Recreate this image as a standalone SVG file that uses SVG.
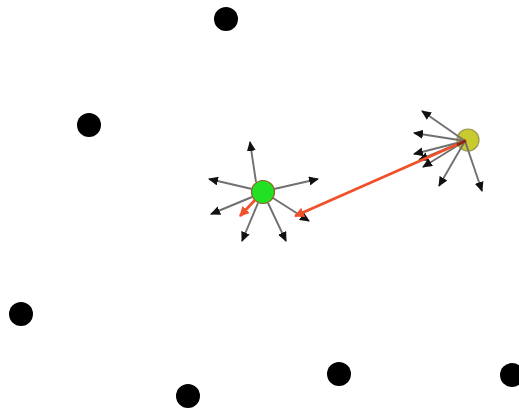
<svg xmlns="http://www.w3.org/2000/svg" width="519" height="415" viewBox="0 0 519 415">
<style>
.dot{fill:#000}
.g{stroke:#707070;stroke-width:1.9;fill:none;marker-end:url(#ah)}
.r{stroke:#f0502a;stroke-width:2.8;fill:none;marker-end:url(#rh)}
</style>
<defs>
<marker id="ah" markerUnits="userSpaceOnUse" markerWidth="11" markerHeight="9" refX="9" refY="4.5" orient="auto"><path d="M0,0 L10,4.5 L0,9 z" fill="#111"/></marker>
<marker id="rh" markerUnits="userSpaceOnUse" markerWidth="12" markerHeight="10" refX="9" refY="5" orient="auto"><path d="M0,0 L10,5 L0,10 z" fill="#f0502a"/></marker>
</defs>
<rect width="519" height="415" fill="#fff"/>
<g id="green"><circle cx="263" cy="192" r="11.5" fill="#22e022" stroke="#9a5a2a" stroke-width="1.2"/></g>
<g id="yellow"><circle cx="468" cy="140" r="11" fill="#c9c930" stroke="#9a9a50" stroke-width="1.2"/></g>
<g id="connectors">
<line class="g" x1="256" y1="182" x2="250" y2="142"/>
<line class="g" x1="252" y1="189" x2="209" y2="179"/>
<line class="g" x1="274" y1="189" x2="318" y2="179"/>
<line class="g" x1="252" y1="197" x2="211" y2="214"/>
<line class="g" x1="258" y1="203" x2="242" y2="241"/>
<line class="g" x1="268" y1="203" x2="286" y2="241"/>
<line class="g" x1="273" y1="198" x2="309" y2="221"/>
<line class="r" x1="255" y1="200" x2="240" y2="216"/>
<line class="g" x1="465" y1="141" x2="422" y2="111"/>
<line class="g" x1="465" y1="141" x2="414" y2="133"/>
<line class="g" x1="465" y1="141" x2="414" y2="154"/>
<line class="g" x1="465" y1="141" x2="419" y2="160"/>
<line class="g" x1="465" y1="141" x2="423" y2="167"/>
<line class="g" x1="465" y1="141" x2="439" y2="186"/>
<line class="g" x1="465" y1="141" x2="482" y2="191"/>
<line class="r" x1="465" y1="141" x2="295" y2="216"/>
<line x1="466" y1="140.5" x2="457" y2="145" stroke="#8a2a10" stroke-width="3"/>
</g>
<g id="n1"><circle class="dot" cx="226" cy="19" r="12"/></g>
<g id="n2"><circle class="dot" cx="89" cy="125" r="12"/></g>
<g id="n3"><circle class="dot" cx="21" cy="314" r="12"/></g>
<g id="n4"><circle class="dot" cx="188" cy="396" r="12"/></g>
<g id="n5"><circle class="dot" cx="339" cy="374" r="12"/></g>
<g id="n6"><circle class="dot" cx="512" cy="375" r="12"/></g>
</svg>
